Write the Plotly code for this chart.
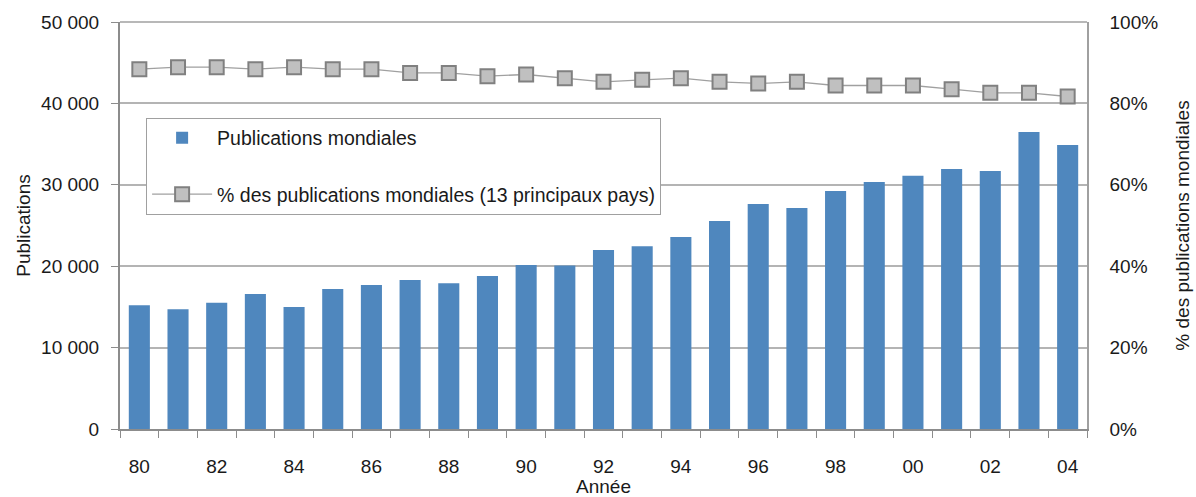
import plotly.graph_objects as go

years = list(range(1980, 2005))
year_labels = ["80", "82", "84", "86", "88", "90", "92", "94", "96", "98", "00", "02", "04"]
publications = [15200, 14700, 15500, 16600, 15000, 17200, 17700, 18300, 17900, 18800,
                20150, 20100, 22000, 22450, 23600, 25550, 27650, 27150, 29250, 30350,
                31100, 31950, 31700, 36500, 34900]
share_pct = [88.4, 88.9, 88.9, 88.4, 88.9, 88.4, 88.4, 87.5, 87.5, 86.7,
             87.1, 86.2, 85.3, 85.8, 86.2, 85.3, 84.9, 85.3, 84.4, 84.4,
             84.4, 83.5, 82.6, 82.6, 81.7]
left_ticks = [0, 10000, 20000, 30000, 40000, 50000]
left_tick_text = ["0", "10 000", "20 000", "30 000", "40 000", "50 000"]

FONT = "Liberation Sans, Arial, sans-serif"
TXT = "#1a1a1a"

fig = go.Figure()
fig.add_trace(go.Bar(
    x=years, y=publications, name="Publications mondiales",
    marker=dict(color="#4f87be", line=dict(width=0)),
    legendgroup="a", yaxis="y",
))
fig.add_trace(go.Scatter(
    x=years, y=[v / 100 for v in share_pct], name="% des publications mondiales (13 principaux pays)",
    mode="lines+markers",
    line=dict(color="#a0a0a0", width=1.3),
    marker=dict(symbol="square", size=14, color="#c0c0c0", line=dict(color="#808080", width=2)),
    legendgroup="b", yaxis="y2",
))

fig.update_layout(
    width=1196, height=497,
    margin=dict(l=120, r=109, t=22, b=68),
    paper_bgcolor="white", plot_bgcolor="white",
    font=dict(family=FONT, size=19, color=TXT),
    bargap=0.455,
    showlegend=True,
    legend=dict(
        x=0.027, y=0.765, xanchor="left", yanchor="top",
        bgcolor="white", bordercolor="#a0a0a0", borderwidth=1,
        font=dict(family=FONT, size=19.5, color=TXT),
        traceorder="grouped", tracegroupgap=28,
        itemwidth=60,
    ),
    xaxis=dict(
        range=[1979.5, 2004.5], automargin=False,
        tickmode="array", tickvals=list(range(1980, 2005, 2)), ticktext=year_labels,
        ticks="", ticklabelstandoff=19,
        showline=True, linecolor="#8c8c8c", linewidth=2, mirror=False,
        showgrid=False, zeroline=False,
        minor=dict(tick0=1979.5, dtick=1, ticks="outside", ticklen=7, tickcolor="#8c8c8c", tickwidth=1, showgrid=False),
        title=dict(text="Année", standoff=2, font=dict(size=19)),
        tickfont=dict(size=19, color=TXT),
    ),
    yaxis=dict(
        range=[0, 50000], automargin=False,
        tickmode="array", tickvals=left_ticks, ticktext=left_tick_text,
        ticks="outside", ticklen=7, tickcolor="#8c8c8c",
        ticklabelstandoff=8,
        showline=True, linecolor="#8c8c8c", linewidth=2,
        showgrid=True, gridcolor="#b4b4b4", gridwidth=1.5, zeroline=False,
        title=dict(text="Publications", standoff=5, font=dict(size=19)),
        tickfont=dict(size=19, color=TXT),
    ),
    yaxis2=dict(
        range=[0, 1], overlaying="y", side="right", automargin=False,
        tickmode="array", tickvals=[0, 0.2, 0.4, 0.6, 0.8, 1.0],
        ticktext=["0%", "20%", "40%", "60%", "80%", "100%"],
        ticks="", ticklabelstandoff=17,
        showline=True, linecolor="#a0a0a0", linewidth=1.5,
        showgrid=False, zeroline=False,
        title=dict(text="% des publications mondiales", standoff=18, font=dict(size=19)),
        tickfont=dict(size=19, color=TXT),
    ),
    shapes=[dict(type="line", xref="paper", yref="paper", x0=0, x1=1, y0=1, y1=1,
                 line=dict(color="#a0a0a0", width=1.5))],
)

fig.write_html("out.html", config={"displayModeBar": False},
               post_script="document.body.style.margin='0';document.body.style.padding='0';")
